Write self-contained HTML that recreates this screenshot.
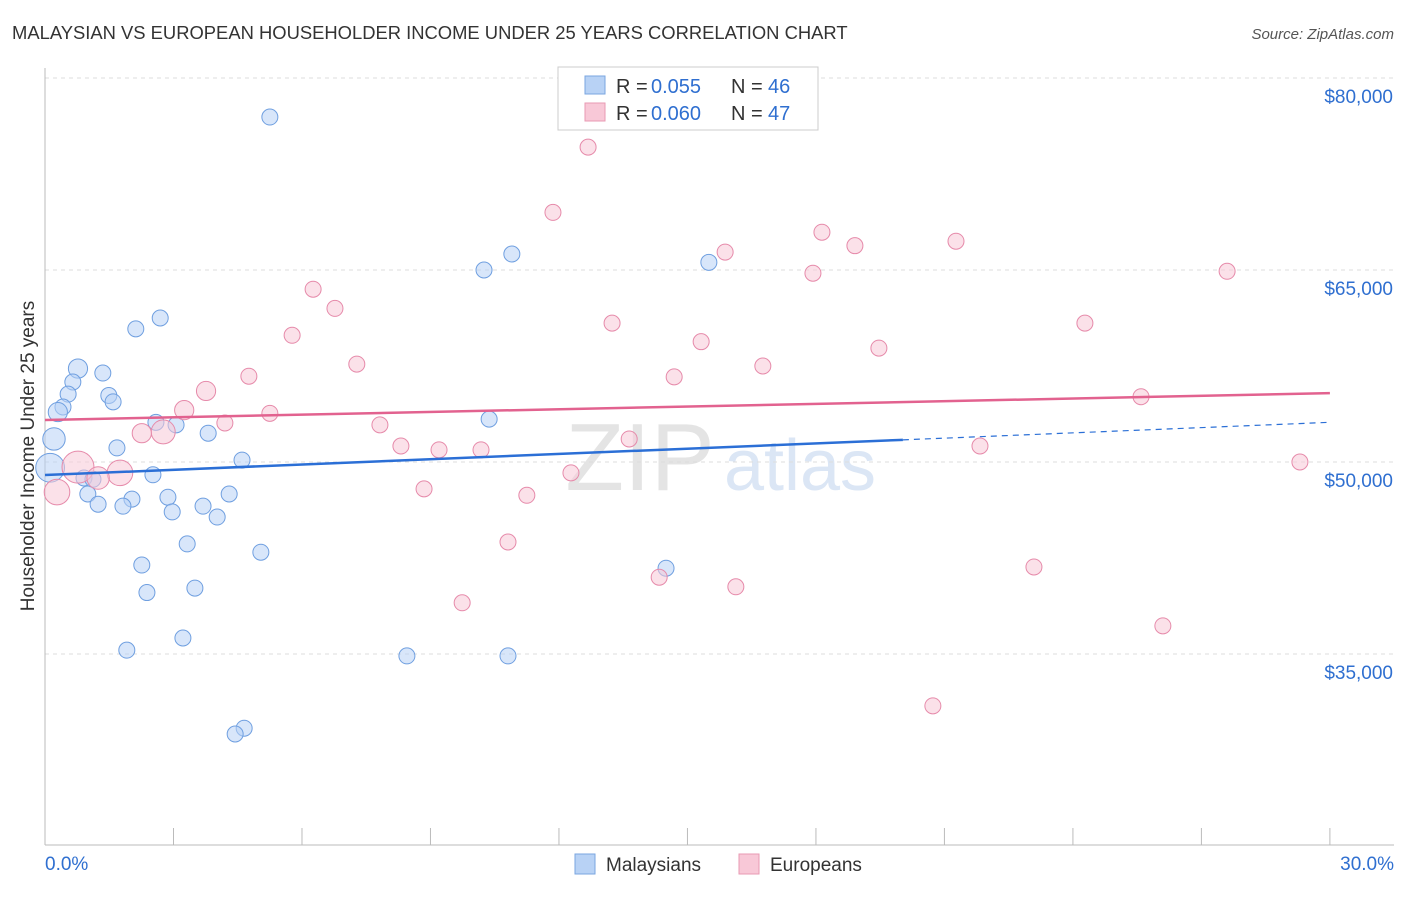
<!DOCTYPE html>
<html><head><meta charset="utf-8"><style>
body{margin:0;background:#fff;font-family:"Liberation Sans",sans-serif;}
svg text{font-family:"Liberation Sans",sans-serif;}
</style></head><body>
<svg id="c" width="1406" height="892">
<text x="12" y="39" font-size="18.4" fill="#333">MALAYSIAN VS EUROPEAN HOUSEHOLDER INCOME UNDER 25 YEARS CORRELATION CHART</text>
<text x="1394" y="39" font-size="15" fill="#555" font-style="italic" text-anchor="end">Source: ZipAtlas.com</text>
<text x="640" y="490" font-size="96" fill="#e4e4e4" font-family="Liberation Serif" text-anchor="middle">ZIP</text>
<text x="800" y="490" font-size="72" fill="#dbe6f5" text-anchor="middle">atlas</text>
<text transform="translate(34,456) rotate(-90)" font-size="19" fill="#333" text-anchor="middle">Householder Income Under 25 years</text>
<g id="grid"></g><g id="pts"></g><g id="lines"></g>
<g>
<rect x="558" y="67" width="260" height="63" fill="#fff" stroke="#ccc"/>
<rect x="585" y="76" width="20" height="18" fill="#b8d2f5" stroke="#7aa6e0"/>
<rect x="585" y="103" width="20" height="18" fill="#f8c8d7" stroke="#e89ab3"/>
<text x="616" y="93" font-size="20" fill="#333">R =</text>
<text x="651" y="93" font-size="20" fill="#2f6fd0">0.055</text>
<text x="731" y="93" font-size="20" fill="#333">N =</text>
<text x="768" y="93" font-size="20" fill="#2f6fd0">46</text>
<text x="616" y="120" font-size="20" fill="#333">R =</text>
<text x="651" y="120" font-size="20" fill="#2f6fd0">0.060</text>
<text x="731" y="120" font-size="20" fill="#333">N =</text>
<text x="768" y="120" font-size="20" fill="#2f6fd0">47</text>
</g>
<g>
<rect x="575" y="854" width="20" height="20" fill="#b8d2f5" stroke="#7aa6e0"/>
<text x="606" y="871" font-size="19" fill="#333">Malaysians</text>
<rect x="739" y="854" width="20" height="20" fill="#f8c8d7" stroke="#e89ab3"/>
<text x="770" y="871" font-size="19" fill="#333">Europeans</text>
</g>
</svg>
<script>
const yTicks=[35000,50000,65000,80000];
const yTickLabels=["$35,000","$50,000","$65,000","$80,000"];
const xTickLabels=["0.0%","30.0%"];
const blueX=[5.25,10.25,10.9,15.5,2.69,2.12,0.77,1.35,0.65,0.54,1.49,1.59,0.42,0.30,2.59,3.06,3.81,10.37,0.21,1.68,4.6,0.12,2.52,0.91,1.12,1.0,2.87,4.3,2.03,1.24,1.82,3.69,2.97,4.02,3.32,5.04,2.26,14.5,2.38,3.5,3.22,1.91,8.45,10.81,4.65,4.44];
const blueY=[76.95,65.0,66.25,65.6,61.25,60.4,57.3,56.95,56.25,55.3,55.2,54.7,54.3,53.9,53.1,52.9,52.25,53.35,51.8,51.1,50.15,49.55,49.0,48.75,48.65,47.5,47.25,47.5,47.1,46.7,46.55,46.55,46.1,45.7,43.6,42.95,41.95,41.7,39.8,40.15,36.25,35.3,34.85,34.85,29.2,28.75];
const blueW=[1,1,1,1,1,1,1.2,1,1,1,1,1,1,1.2,1,1,1,1,1.4,1,1,1.8,1,1,1,1,1,1,1,1,1,1,1,1,1,1,1,1,1,1,1,1,1,1,1,1];
const pinkX=[12.68,11.86,18.14,21.27,18.91,15.88,17.93,27.6,6.26,6.77,13.24,24.28,5.77,15.32,19.47,7.28,16.76,4.76,14.69,3.76,3.25,5.25,4.2,2.76,2.26,7.82,13.64,8.31,21.83,9.2,10.18,25.59,0.77,1.75,1.24,12.28,29.3,0.28,8.85,11.25,10.81,23.09,14.34,16.13,9.74,26.1,20.73];
const pinkY=[74.6,69.5,67.95,67.25,66.9,66.4,64.75,64.9,63.5,62.0,60.85,60.85,59.9,59.4,58.9,57.65,57.5,56.7,56.65,55.55,54.05,53.8,53.05,52.35,52.25,52.9,51.8,51.25,51.25,50.95,50.95,55.1,49.6,49.15,48.75,49.15,50.0,47.65,47.9,47.4,43.75,41.8,41.0,40.25,39.0,37.2,30.95];
const pinkW=[1,1,1,1,1,1,1,1,1,1,1,1,1,1,1,1,1,1,1,1.2,1.2,1,1,1.5,1.2,1,1,1,1,1,1,1,2,1.6,1.4,1,1,1.6,1,1,1,1,1,1,1,1,1];
const blueTrend=[48.98,53.1], blueSolidEnd=20.03;
const pinkTrend=[53.28,55.38];
const NS="http://www.w3.org/2000/svg";
const X=p=>45+p*42.83, Y=k=>462-(k-50)*12.8;
function mk(par,tag,at){const e=document.createElementNS(NS,tag);for(const k in at)e.setAttribute(k,at[k]);document.getElementById(par).appendChild(e);return e;}
const g='grid';
let e=mk(g,'line',{x1:45,y1:78,x2:1394,y2:78,stroke:'#ddd','stroke-dasharray':'4,4'});


yTicks.forEach((v,i)=>{const y=Y(v/1000);
 let l=mk(g,'line',{x1:45,y1:y,x2:1394,y2:y,stroke:'#ddd','stroke-dasharray':'4,4'});
 
 
 let t=mk(g,'text',{x:1393,y:y+25,'font-size':19,fill:'#2f6fd0','text-anchor':'end'});t.textContent=yTickLabels[i];
 
 
});
e=mk(g,'line',{x1:45,y1:68,x2:45,y2:845,stroke:'#bbb'});


e=mk(g,'line',{x1:45,y1:845,x2:1394,y2:845,stroke:'#bbb'});


for(let p=0;p<=30;p+=3){let t=mk(g,'line',{x1:X(p),y1:828,x2:X(p),y2:845,stroke:'#bbb'});
 
 }
[[0,'start',45],[30,'end',1394]].forEach((a,i)=>{let t=mk(g,'text',{x:a[2],y:870,'font-size':19,fill:'#2f6fd0','text-anchor':a[1]});t.textContent=xTickLabels[i];
 
 });
function pts(xs,ys,ws,fill,stroke,name){xs.forEach((x,i)=>{let c=mk('pts','circle',{cx:X(x),cy:Y(ys[i]),r:8*ws[i],fill:fill,'fill-opacity':0.55,stroke:stroke,'stroke-width':1});
 
 });}
pts(blueX,blueY,blueW,'#b8d2f5','#6f9fe0','malaysian-point');
pts(pinkX,pinkY,pinkW,'#f8c8d7','#e68aaa','european-point');
const bAt=p=>blueTrend[0]+(blueTrend[1]-blueTrend[0])*p/30;
e=mk('lines','line',{x1:X(0),y1:Y(bAt(0)),x2:X(blueSolidEnd),y2:Y(bAt(blueSolidEnd)),stroke:'#2b6fd6','stroke-width':2.5});


e=mk('lines','line',{x1:X(blueSolidEnd),y1:Y(bAt(blueSolidEnd)),x2:X(30),y2:Y(bAt(30)),stroke:'#2b6fd6','stroke-width':1.2,'stroke-dasharray':'6,5'});


e=mk('lines','line',{x1:X(0),y1:Y(pinkTrend[0]),x2:X(30),y2:Y(pinkTrend[1]),stroke:'#e2628f','stroke-width':2.5});


</script>
</body></html>
